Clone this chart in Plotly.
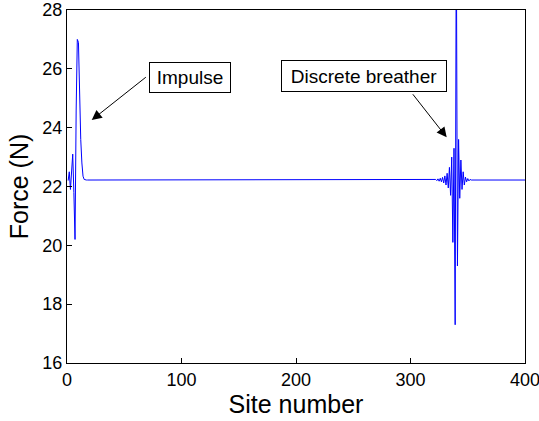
import plotly.graph_objects as go

# Force along the chain, one value per site (1..400)
baseline_force = 22.22

impulse_sites = [1, 2, 3, 4, 5, 6, 7, 8, 9, 10, 11, 12, 13, 14, 15]
impulse_force = [22.2, 22.5, 21.9, 22.6, 23.1, 21.8, 20.2, 24.6, 27.0,
                 26.9, 24.5, 23.6, 22.8, 22.35, 22.24]

breather_sites = list(range(321, 354))
breather_force = [22.22, 22.24, 22.20, 22.26, 22.18, 22.28, 22.16, 22.31,
                  22.12, 22.36, 22.05, 22.45, 21.95, 22.65, 21.7, 23.0,
                  20.1, 23.3, 17.3, 31.0, 19.3, 23.6, 21.6, 22.9, 21.9,
                  22.5, 22.05, 22.32, 22.16, 22.27, 22.19, 22.24, 22.22]

x_ticks = [0, 100, 200, 300, 400]
y_ticks = [16, 18, 20, 22, 24, 26, 28]

sites = list(range(1, 401))
force = [baseline_force] * len(sites)
for s, f in zip(impulse_sites, impulse_force):
    force[s - 1] = f
for s, f in zip(breather_sites, breather_force):
    force[s - 1] = f

fig = go.Figure()
fig.add_trace(go.Scatter(
    x=sites, y=force, mode="lines",
    line=dict(color="#0000ff", width=1),
    showlegend=False, hoverinfo="skip",
))

axis_common = dict(
    showline=True, linecolor="#000000", linewidth=1, mirror=True,
    ticks="inside", ticklen=5, tickcolor="#000000",
    showgrid=False, zeroline=False, ticklabeloverflow="allow",
    automargin=False,
    tickfont=dict(family="Liberation Sans, Arial, sans-serif", size=18, color="#000000"),
)

fig.update_xaxes(range=[0, 400], tickvals=x_ticks, ticktext=[str(v) for v in x_ticks],
                 title=dict(text="Site number", standoff=2,
                            font=dict(family="Liberation Sans, Arial, sans-serif", size=25, color="#000000")),
                 **axis_common)
fig.update_yaxes(range=[16, 28], tickvals=y_ticks,
                 title=dict(text="Force (N)", standoff=6,
                            font=dict(family="Liberation Sans, Arial, sans-serif", size=25, color="#000000")),
                 **axis_common)

label_font = dict(family="Liberation Sans, Arial, sans-serif", size=19, color="#000000")

# Text boxes
fig.add_annotation(x=107.3, y=25.70, xref="x", yref="y", text="Impulse",
                   showarrow=False, font=label_font, bgcolor="#ffffff",
                   bordercolor="#000000", borderwidth=1, borderpad=0,
                   width=80, height=29)
fig.add_annotation(x=259.8, y=25.76, xref="x", yref="y", text="Discrete breather",
                   showarrow=False, font=label_font, bgcolor="#ffffff",
                   bordercolor="#000000", borderwidth=1, borderpad=0,
                   width=164, height=30)

# Arrows pointing at the features
fig.add_annotation(x=21.6, y=24.26, xref="x", yref="y", text="",
                   showarrow=True, arrowhead=2, arrowsize=2, arrowwidth=1,
                   arrowcolor="#000000", ax=55.6, ay=-44, standoff=0)
fig.add_annotation(x=331.6, y=23.67, xref="x", yref="y", text="",
                   showarrow=True, arrowhead=2, arrowsize=2, arrowwidth=1,
                   arrowcolor="#000000", ax=-35, ay=-44.6, standoff=0)

fig.update_layout(
    width=539, height=421,
    margin=dict(l=67, r=14, t=10, b=58),
    paper_bgcolor="#ffffff", plot_bgcolor="#ffffff",
)

fig.write_html("out.html")
